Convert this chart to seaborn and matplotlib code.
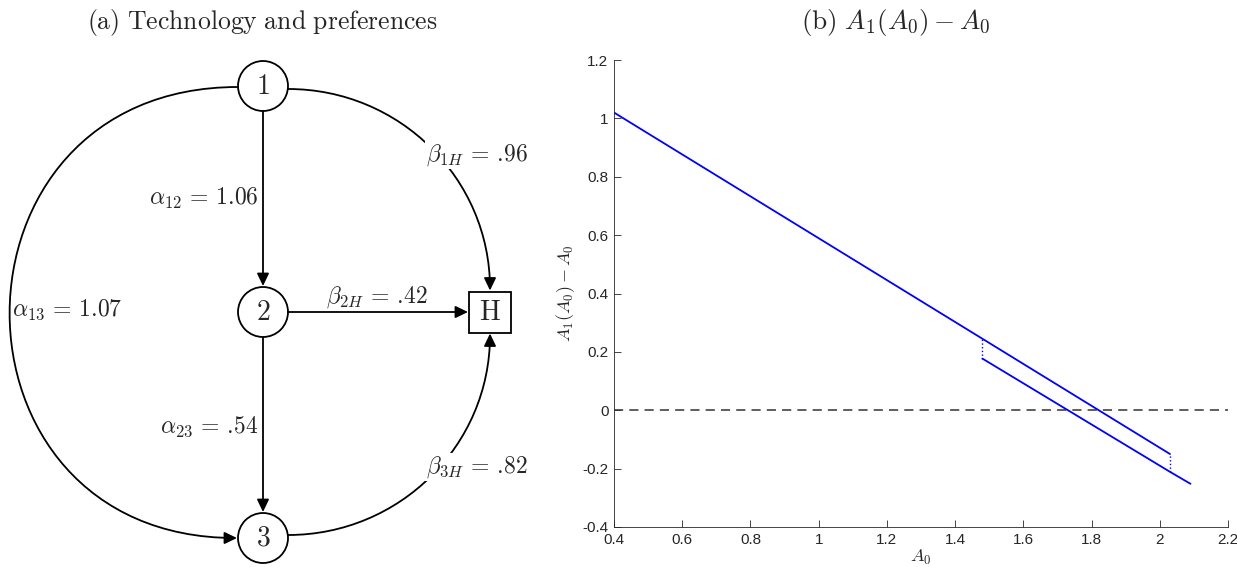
import matplotlib
matplotlib.use("Agg")
import matplotlib.pyplot as plt
import seaborn as sns
from matplotlib.path import Path
from matplotlib.patches import FancyArrowPatch, Circle, Rectangle

# panel (b): A1(A0) - A0
upper_x = [0.40, 1.48, 2.03]
upper_y = [1.02, 0.245, -0.150]
lower_x = [1.48, 2.03, 2.09]
lower_y = [0.177, -0.211, -0.252]

x_ticks = [0.4, 0.6, 0.8, 1.0, 1.2, 1.4, 1.6, 1.8, 2.0, 2.2]
x_ticklabels = ["0.4", "0.6", "0.8", "1", "1.2", "1.4", "1.6", "1.8", "2", "2.2"]
y_ticks = [-0.4, -0.2, 0.0, 0.2, 0.4, 0.6, 0.8, 1.0, 1.2]
y_ticklabels = ["-0.4", "-0.2", "0", "0.2", "0.4", "0.6", "0.8", "1", "1.2"]

# panel (a): technology / preference network
node_names = ["1", "2", "3", "H"]
edge_list = [("1", "2"), ("2", "3"), ("2", "H"), ("1", "3"), ("1", "H"), ("3", "H")]
# \! cancels the space mathtext puts after a leading "."
edge_labels = [r"$\alpha_{12} \,=\, 1.06$", r"$\alpha_{23} \,=\, .\!54$",
               r"$\beta_{2H} \,=\, .\!42$", r"$\alpha_{13} \,=\, 1.07$",
               r"$\beta_{1H} \,=\, .\!96$", r"$\beta_{3H} \,=\, .\!82$"]

sns.set_style("ticks", {"xtick.direction": "in", "ytick.direction": "in"})
plt.rcParams["font.family"] = ["Liberation Sans", "DejaVu Sans"]
plt.rcParams["mathtext.fontset"] = "cm"

fig = plt.figure(figsize=(12.37, 5.67), dpi=100)

# ---------- (a) diagram, drawn in pixel units ----------
axa = fig.add_axes([0, 0, 540 / 1237, 1])
axa.set_xlim(0, 540)
axa.set_ylim(567, 0)
axa.axis("off")

pos = {"1": (263, 86), "2": (263, 312), "3": (263, 538), "H": (490, 312)}
r = 25
lw = 1.3
for n in node_names:
    x, y = pos[n]
    if n == "H":
        axa.add_patch(Rectangle((x - 21, y - 20.5), 42, 41, fill=False, lw=lw, ec="black"))
        axa.text(x, y + 1, r"$\mathrm{H}$", ha="center", va="center", fontsize=20)
    else:
        axa.add_patch(Circle((x, y), r, fill=False, lw=lw, ec="black"))
        axa.text(x, y + 1, "$%s$" % n, ha="center", va="center", fontsize=20)

arrow_kw = dict(arrowstyle="-|>,head_length=0.75,head_width=0.36", mutation_scale=10,
                lw=lw, color="black", shrinkA=0, shrinkB=0)

def curve(p0, c1, c2, p3):
    return Path([p0, c1, c2, p3], [Path.MOVETO, Path.CURVE4, Path.CURVE4, Path.CURVE4])

x1, y1 = pos["1"]; x2, y2 = pos["2"]; x3, y3 = pos["3"]; xh, yh = pos["H"]
paths = {
    ("1", "2"): Path([(x1, y1 + r), (x2, y2 - r - 1)]),
    ("2", "3"): Path([(x2, y2 + r), (x3, y3 - r - 1)]),
    ("2", "H"): Path([(x2 + r, y2), (xh - 22, yh)]),
    ("1", "3"): curve((x1 - r, y1 + 1), (x1 - r - 304, y1 + 1), (x3 - r - 304, y3), (x3 - r - 1, y3)),
    ("1", "H"): curve((x1 + r, y1 + 3), (x1 + r + 112, y1 + 3), (xh, yh - 21 - 112), (xh, yh - 21.5)),
    ("3", "H"): curve((x3 + r, y3 - 3), (x3 + r + 112, y3 - 3), (xh, yh + 21 + 112), (xh, yh + 21.5)),
}
for e in edge_list:
    axa.add_patch(FancyArrowPatch(path=paths[e], **arrow_kw))

lab_fs = 17
box = dict(fc="white", ec="none", pad=1.0)
label_pos = [(259, 198, "right"), (259, 427, "right"), (377, 297, "center"),
             (12, 310, "left"), (426, 155, "left"), (426, 467, "left")]
for txt, (lx, ly, ha) in zip(edge_labels, label_pos):
    axa.text(lx, ly, txt, ha=ha, va="center", fontsize=lab_fs, bbox=box)

fig.text(262 / 1237, 1 - 22 / 567, r"$\mathrm{(a)\ Technology\ and\ preferences}$",
         ha="center", va="center", fontsize=18.5)

# ---------- (b) line chart ----------
axb = fig.add_axes([614 / 1237, 40 / 567, 614 / 1237, 467 / 567])
axb.axhline(0, color="#333333", lw=1.1, ls=(0, (6, 4)))
sns.lineplot(x=upper_x, y=upper_y, ax=axb, color="blue", lw=1.3, sort=False, estimator=None)
sns.lineplot(x=lower_x, y=lower_y, ax=axb, color="blue", lw=1.3, sort=False, estimator=None)
# dotted jumps between the two branches
for jx in [lower_x[0], upper_x[-1]]:
    top = upper_y[upper_x.index(jx)]
    bot = lower_y[lower_x.index(jx)]
    sns.lineplot(x=[jx, jx], y=[top, bot], ax=axb, color="blue", lw=1.0, ls=":", estimator=None)

axb.set_xlim(0.4, 2.2)
axb.set_ylim(-0.4, 1.2)
axb.set_xticks(x_ticks, x_ticklabels)
axb.set_yticks(y_ticks, y_ticklabels)
axb.tick_params(direction="in", length=5, width=0.6, color="#262626", labelsize=11,
                labelcolor="#262626", pad=4)
sns.despine(ax=axb)
for s in ["left", "bottom"]:
    axb.spines[s].set_color("#262626")
    axb.spines[s].set_linewidth(0.6)
axb.set_xlabel(r"$A_0$", fontsize=13, labelpad=1)
axb.set_ylabel(r"$A_1(A_0) - A_0$", fontsize=13, labelpad=4)

fig.text(896 / 1237, 1 - 22 / 567, r"$\mathrm{(b)}\ A_1(A_0) - A_0$",
         ha="center", va="center", fontsize=19.5)

fig.savefig("out.png", dpi=100)
